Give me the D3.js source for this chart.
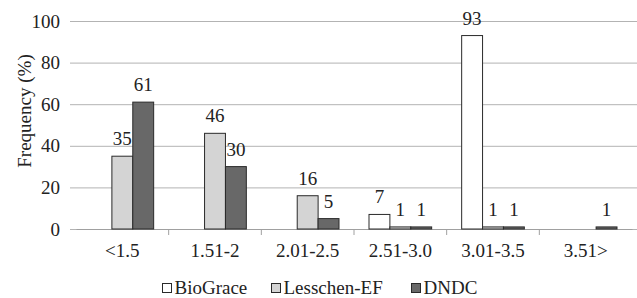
<!DOCTYPE html>
<html>
<head>
<meta charset="utf-8">
<script src="https://cdn.jsdelivr.net/npm/d3@7"></script>
<style>
  body { margin: 0; background: #fff; }
</style>
</head>
<body>
<script>
/*** DATA ***/
let categories = ["<1.5", "1.51-2", "2.01-2.5", "2.51-3.0", "3.01-3.5", "3.51>"];
let seriesNames = ["BioGrace", "Lesschen-EF", "DNDC"];
let bioGrace = [0, 0, 0, 7, 93, 0];
let lesschen = [35, 46, 16, 1, 1, 0];
let dndc = [61, 30, 5, 1, 1, 1];
let yTicks = [0, 20, 40, 60, 80, 100];

let font = "'Liberation Serif', 'Times New Roman', Times, 'DejaVu Serif', serif";
let fs = "19px";

/*** GRAPH ***/
let margin = {top: 21, right: 5, bottom: 69, left: 76},
  width = 637 - margin.left - margin.right,
  height = 298 - margin.top - margin.bottom;

let color = d3.scaleOrdinal().domain(seriesNames).range(["#ffffff", "#d4d4d4", "#686868"]);

let x0 = d3.scaleBand().domain(categories).range([0, width]);
let x1 = d3.scaleBand().domain(seriesNames).range([15, x0.bandwidth() - 15]);
let y = d3.scaleLinear().domain([0, 100]).range([height, 0]);

let svg = d3.select("body").append("svg")
  .attr("width", 637)
  .attr("height", 298)
  .style("font-family", font)
  .append("g")
  .attr("transform", "translate(" + margin.left + "," + margin.top + ")");

/* grille + axe y */
svg.append("g")
  .attr("class", "y axis")
  .call(d3.axisLeft(y).tickValues(yTicks).tickSize(-width - 6))
  .call(g => g.attr("font-family", null))
  .call(g => g.select(".domain").remove())
  .call(g => g.selectAll(".tick line").attr("x1", -6).attr("stroke", "#b3b3b3"))
  .call(g => g.selectAll(".tick text").attr("x", -16).style("font-size", fs)
    .style("font-family", font).attr("fill", "#222"));

/* axe x */
svg.append("g")
  .attr("class", "x axis")
  .attr("transform", "translate(0," + height + ")")
  .call(d3.axisBottom(x0).tickSize(0).tickPadding(15))
  .call(g => g.attr("font-family", null))
  .call(g => g.select(".domain").attr("stroke", "#a0a0a0"))
  .call(g => g.selectAll(".tick text").style("font-size", fs)
    .style("font-family", font).attr("fill", "#222"));

/* petits traits entre catégories */
svg.append("g")
  .selectAll("line")
  .data(categories.slice(1))
  .enter().append("line")
  .attr("x1", d => x0(d)).attr("x2", d => x0(d))
  .attr("y1", height).attr("y2", height + 6)
  .attr("stroke", "#a0a0a0");

/* barres */
let rows = categories.map((c, i) => ({
  cat: c,
  vals: [bioGrace[i], lesschen[i], dndc[i]].map((v, j) => ({name: seriesNames[j], value: v}))
}));

let groups = svg.selectAll(".grp")
  .data(rows)
  .enter().append("g")
  .attr("class", "grp")
  .attr("transform", d => "translate(" + x0(d.cat) + ",0)");

groups.selectAll("rect")
  .data(d => d.vals.filter(v => v.value > 0))
  .enter().append("rect")
  .attr("x", d => x1(d.name))
  .attr("y", d => y(d.value))
  .attr("width", x1.bandwidth())
  .attr("height", d => height - y(d.value))
  .attr("fill", d => color(d.name))
  .attr("stroke", "#2a2a2a")
  .attr("stroke-width", 1);

groups.selectAll(".lbl")
  .data(d => d.vals.filter(v => v.value > 0))
  .enter().append("text")
  .attr("class", "lbl")
  .attr("x", d => x1(d.name) + x1.bandwidth() / 2)
  .attr("y", d => y(d.value) - 11)
  .attr("text-anchor", "middle")
  .attr("fill", "#222")
  .style("font-size", fs)
  .text(d => d.value);

/* titre axe y */
svg.append("text")
  .attr("transform", "rotate(-90)")
  .attr("x", -height / 2 + 14)
  .attr("y", -45)
  .attr("text-anchor", "middle")
  .attr("fill", "#222")
  .style("font-size", fs)
  .text("Frequency (%)");

/* légende */
let legendX = [162, 271, 411];
let legend = svg.selectAll(".legend")
  .data(seriesNames)
  .enter().append("g")
  .attr("class", "legend")
  .attr("transform", (d, i) => "translate(" + (legendX[i] - margin.left) + "," + (294 - margin.top) + ")");

legend.append("rect")
  .attr("x", 0.5).attr("y", -10.5)
  .attr("width", 9).attr("height", 9)
  .attr("fill", d => color(d))
  .attr("stroke", "#2a2a2a");

legend.append("text")
  .attr("x", 12.5)
  .attr("fill", "#222")
  .style("font-size", fs)
  .text(d => d);
</script>
</body>
</html>
